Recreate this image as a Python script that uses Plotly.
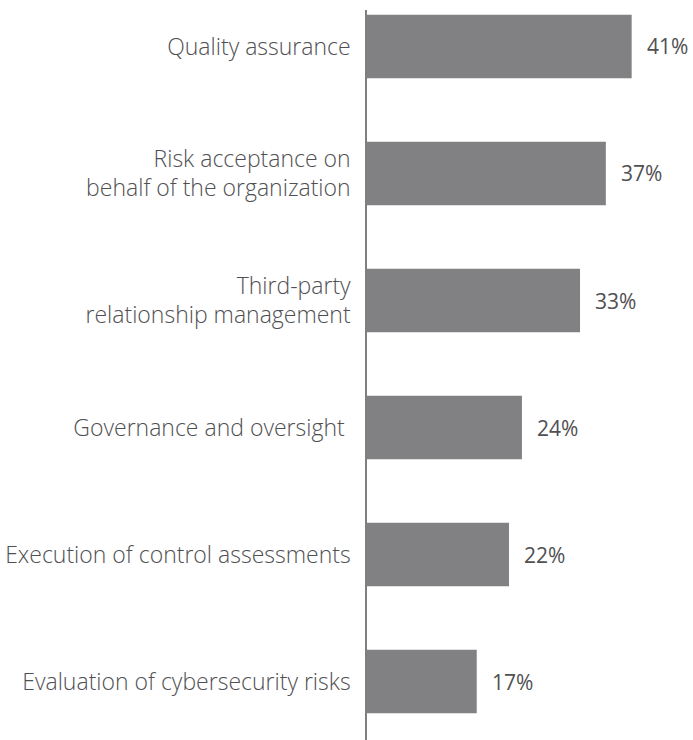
import plotly.graph_objects as go

categories = [
    "Quality assurance",
    "Risk acceptance on<br>behalf of the organization",
    "Third-party<br>relationship management",
    "Governance and oversight ",
    "Execution of control assessments",
    "Evaluation of cybersecurity risks",
]
values = [41, 37, 33, 24, 22, 17]

bar_color = "#818184"
text_color = "#505052"
font_family = "Open Sans"

positions = list(range(len(categories)))

fig = go.Figure(
    go.Bar(
        x=values,
        y=positions,
        orientation="h",
        marker=dict(color=bar_color, line=dict(width=0)),
        width=0.5,
        hoverinfo="skip",
    )
)

for pos, val in zip(positions, values):
    fig.add_annotation(
        x=val, y=pos, xref="x", yref="y",
        text=f"{val}%", showarrow=False,
        xanchor="left", yanchor="middle", xshift=13,
        font=dict(family=font_family, size=21, color=text_color),
    )

fig.update_layout(
    width=693, height=740,
    margin=dict(l=367, r=0, t=10, b=0),
    paper_bgcolor="white", plot_bgcolor="white",
    showlegend=False,
    font=dict(family=font_family, size=23, color=text_color),
    xaxis=dict(range=[0, 50.5], visible=False, fixedrange=True),
    yaxis=dict(
        range=[5.46, -0.287],
        tickmode="array", tickvals=positions, ticktext=categories,
        showgrid=False, zeroline=False,
        showline=True, linecolor="#7f7f7f", linewidth=1.5,
        ticks="", ticklabelstandoff=10,
        tickfont=dict(family=font_family, size=23, color=text_color, weight=300),
    ),
)

fig.write_html("out.html")
